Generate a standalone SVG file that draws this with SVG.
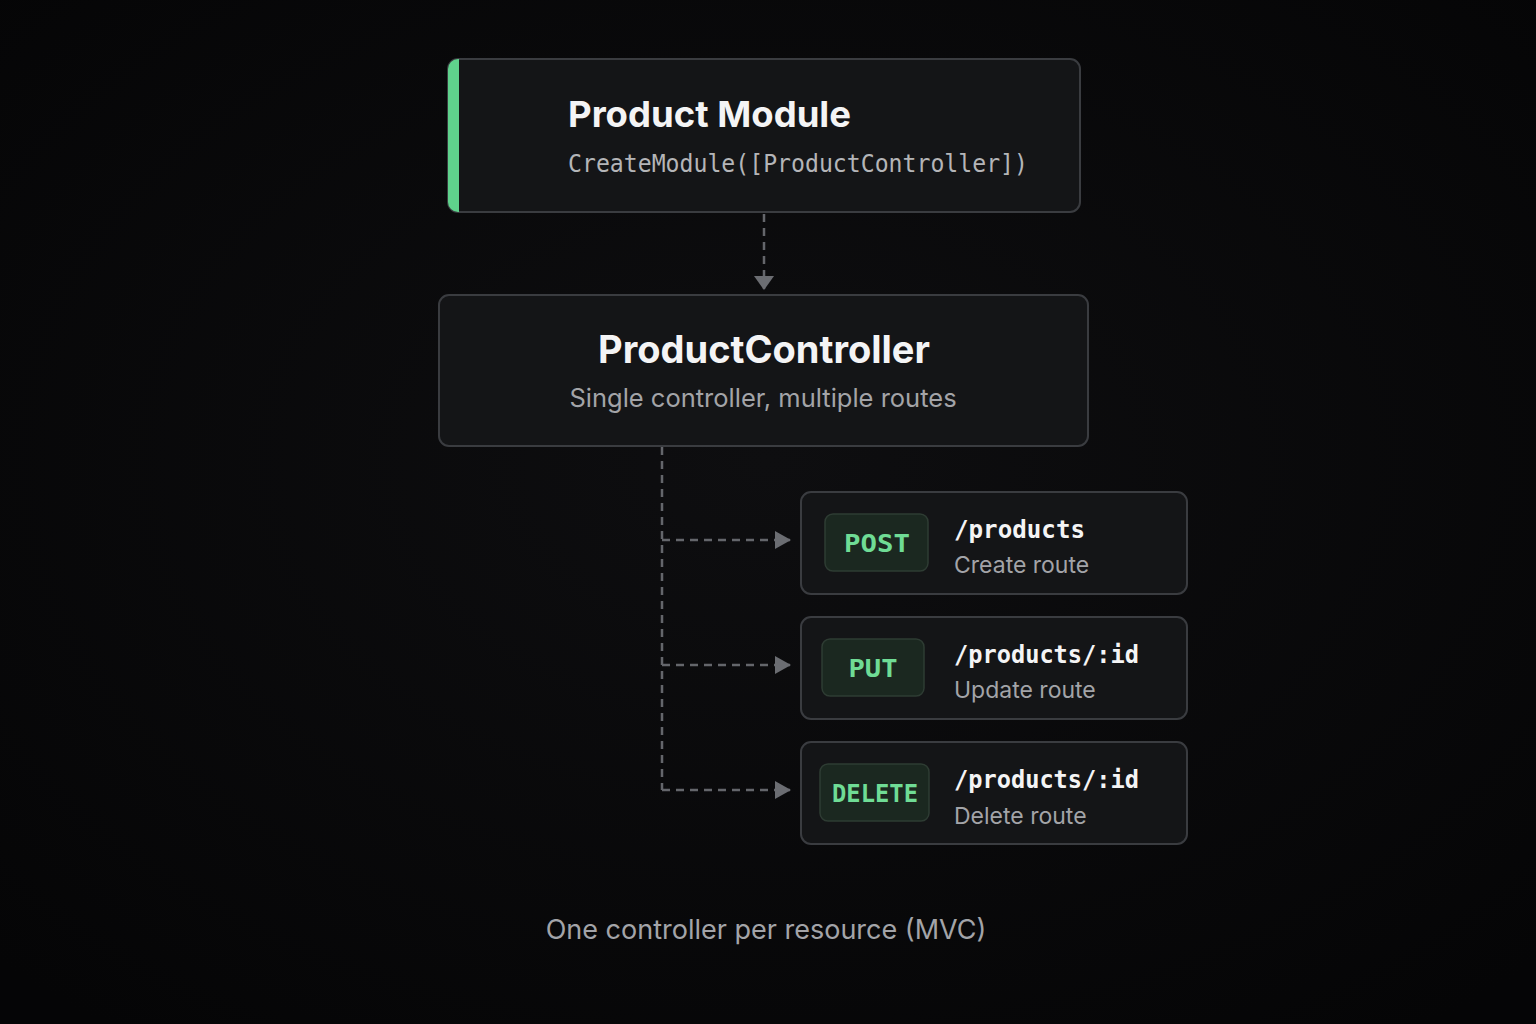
<svg xmlns="http://www.w3.org/2000/svg" width="1536" height="1024" viewBox="0 0 1536 1024">
<defs>
<radialGradient id="bg" cx="50%" cy="45%" r="70%">
<stop offset="0" stop-color="#0e0e10"/>
<stop offset="1" stop-color="#050506"/>
</radialGradient>
<clipPath id="modClip"><rect x="448" y="59" width="632" height="153" rx="10"/></clipPath>
<marker id="arr" viewBox="0 0 16 18" refX="15" refY="9" markerWidth="16" markerHeight="18" markerUnits="userSpaceOnUse" orient="auto">
<path d="M0,0 L16,9 L0,18 Z" fill="#6b6d72"/>
</marker>
<marker id="arrDown" viewBox="0 0 14 20" refX="13" refY="10" markerWidth="14" markerHeight="20" markerUnits="userSpaceOnUse" orient="auto">
<path d="M0,0 L14,10 L0,20 Z" fill="#6b6d72"/>
</marker>
</defs>
<style>
.box{fill:#141517;stroke:#3a3c40;stroke-width:2}
.badge{fill:#1b2820;stroke:#2e3c33;stroke-width:1.5}
.title{font-family:Inter,"Liberation Sans",sans-serif;font-weight:700;fill:#f4f4f5}
.sub{font-family:Inter,"Liberation Sans",sans-serif;fill:#a3a4a8}
.mono{font-family:"DejaVu Sans Mono","Liberation Mono",monospace}
.path{fill:#f4f4f5;font-size:25px;font-weight:600}
.verb{fill:#6fdc95;font-size:25px;font-weight:700}
.conn{fill:none;stroke:#64666b;stroke-width:2.5;stroke-dasharray:8 6}
</style>
<rect width="1536" height="1024" fill="url(#bg)"/>

<g id="connectors">
<path class="conn" d="M764,214 V289" marker-end="url(#arrDown)"/>
<path class="conn" d="M662,447 V790"/>
<path class="conn" d="M662,540 H790" marker-end="url(#arr)"/>
<path class="conn" d="M662,665 H790" marker-end="url(#arr)"/>
<path class="conn" d="M662,790 H790" marker-end="url(#arr)"/>
</g>

<g id="product-module">
<rect class="box" x="448" y="59" width="632" height="153" rx="10"/>
<rect x="448" y="59" width="11" height="153" fill="#5fd28c" clip-path="url(#modClip)"/>
<text class="title" x="568" y="127" font-size="36" textLength="283" lengthAdjust="spacingAndGlyphs">Product Module</text>
<text class="mono" x="568" y="172" font-size="25" fill="#b4b5b8" textLength="460" lengthAdjust="spacingAndGlyphs">CreateModule([ProductController])</text>
</g>

<g id="product-controller">
<rect class="box" x="439" y="295" width="649" height="151" rx="10"/>
<text class="title" x="764" y="363" font-size="38" text-anchor="middle">ProductController</text>
<text class="sub" x="763" y="407" font-size="25.5" text-anchor="middle">Single controller, multiple routes</text>
</g>

<g id="route-post">
<rect class="box" x="801" y="492" width="386" height="102" rx="10"/>
<rect class="badge" x="825" y="514" width="103" height="57" rx="8"/>
<text class="mono verb" x="877" y="552" text-anchor="middle" textLength="66" lengthAdjust="spacingAndGlyphs">POST</text>
<text class="mono path" x="954" y="538" textLength="131" lengthAdjust="spacingAndGlyphs">/products</text>
<text class="sub" x="954" y="573" font-size="23">Create route</text>
</g>

<g id="route-put">
<rect class="box" x="801" y="617" width="386" height="102" rx="10"/>
<rect class="badge" x="822" y="639" width="102" height="57" rx="8"/>
<text class="mono verb" x="873" y="677" text-anchor="middle" textLength="49" lengthAdjust="spacingAndGlyphs">PUT</text>
<text class="mono path" x="954" y="663" textLength="185" lengthAdjust="spacingAndGlyphs">/products/:id</text>
<text class="sub" x="954" y="698" font-size="23">Update route</text>
</g>

<g id="route-delete">
<rect class="box" x="801" y="742" width="386" height="102" rx="10"/>
<rect class="badge" x="820" y="764" width="109" height="57" rx="8"/>
<text class="mono verb" x="875" y="802" text-anchor="middle" textLength="86" lengthAdjust="spacingAndGlyphs">DELETE</text>
<text class="mono path" x="954" y="788" textLength="185" lengthAdjust="spacingAndGlyphs">/products/:id</text>
<text class="sub" x="954" y="824" font-size="23">Delete route</text>
</g>

<text class="sub" x="766" y="939" font-size="27" text-anchor="middle" fill="#9a9b9f">One controller per resource (MVC)</text>
</svg>
